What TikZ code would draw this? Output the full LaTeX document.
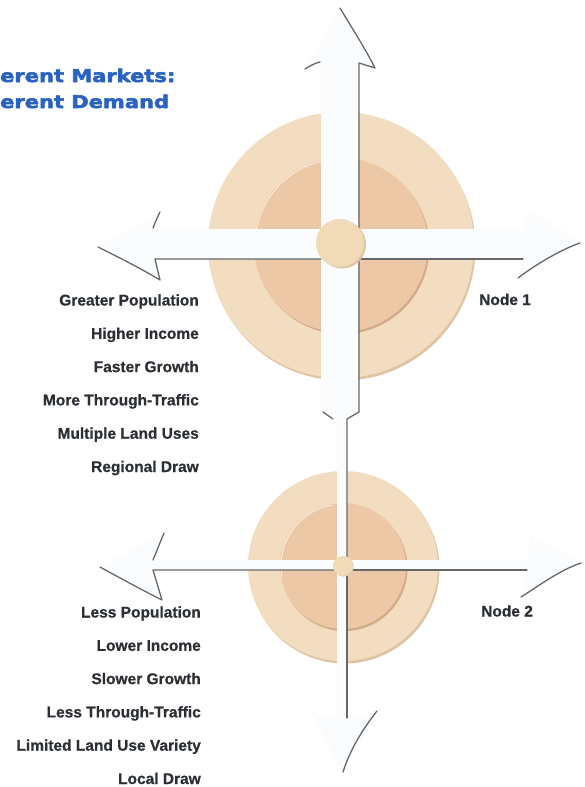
\documentclass[tikz,border=0pt]{standalone}
\usepackage{fontspec}
\setmainfont{Liberation Sans}[BoldFeatures={FakeBold=0.6}]
\newfontfamily\headfont[FakeStretch=1.2,FakeBold=3,UprightFont={* Bold}]{DejaVu Sans}
\usetikzlibrary{calc}

\definecolor{discout}{HTML}{F3DDC0}
\definecolor{discrim}{HTML}{DEC4A2}
\definecolor{discin}{HTML}{EDC8A6}
\definecolor{discinrim}{HTML}{D3AA86}
\definecolor{hubfill}{HTML}{F0DAB8}
\definecolor{roadfill}{HTML}{FAFCFD}
\definecolor{edge}{HTML}{66696C}
\definecolor{labelgray}{HTML}{2B2F33}
\definecolor{titleblue}{HTML}{2A62C2}

\begin{document}
\begin{tikzpicture}[x=1pt,y=-1pt,
    rim/.style={draw=edge,line width=1.3pt,line cap=round,line join=round},
    road/.style={fill=roadfill},
    lbl/.style={anchor=base east,inner sep=0pt,text=labelgray,font=\bfseries\fontsize{15.5}{18}\selectfont},
    nodelbl/.style={anchor=base west,inner sep=0pt,text=labelgray,font=\bfseries\fontsize{15.5}{18}\selectfont},
    headline/.style={anchor=base west,inner sep=0pt,text=titleblue,font=\headfont\fontsize{17.5}{20}\selectfont}]
	\useasboundingbox (0,0) rectangle (584,787);
	% title, cut at the left edge
	\node[headline] (title1) at (0,82) {erent Markets:};
	\node[headline] (title2) at (0,108) {erent Demand};
	% centres
	\coordinate (hub1) at (341,245);
	\coordinate (hub2) at (343,566);
	% discs of node 1
	\fill[discrim] ($(hub1)+(1.5,2.5)$) circle (133);
	\fill[discout] (hub1) circle (133);
	\fill[discinrim] ($(hub1)+(1.5,2)$) circle (87);
	\fill[discin] (hub1) circle (87);
	\draw[white,line width=0.8pt,opacity=0.8] ($(hub1)+(170:86)$) arc (170:260:86);
	% discs of node 2
	\fill[discrim] ($(hub2)+(1.5,2.5)$) circle (95);
	\fill[discout] (hub2) circle (95);
	\fill[discinrim] ($(hub2)+(1.5,2)$) circle (63);
	\fill[discin] (hub2) circle (63);
	\draw[white,line width=0.8pt,opacity=0.8] ($(hub2)+(170:62)$) arc (170:260:62);
	% white roads
	\fill[road] (321,408) -- (321,66) -- (305,69) -- (340,8) -- (375,68) -- (358,63) -- (358,412) -- (347,418) -- (347,718) -- (337,718) -- (337,420) -- cycle;
	\fill[road] (321,229) -- (155,229) -- (160,212) -- (98,247) -- (160,280) -- (155,259) -- (523,259) -- (518,278) -- (582,241) -- (528,210) -- (523,229) -- cycle;
	\fill[road] (153,560) -- (164,533) -- (100,567) -- (162,600) -- (153,570) -- (527,570) -- (521,597) -- (582,563) -- (530,535) -- (527,560) -- cycle;
	\fill[road] (337,718) -- (312,712) -- (343,774) -- (377,711) -- (347,718) -- cycle;
	% shadow edges, node 1
	\draw[rim] (340,8) .. controls (352,28) and (366,50) .. (375,68) -- (359,63) -- (359,229);
	\draw[rim] (305,69) .. controls (310,66) and (315,63) .. (320,62);
	\draw[rim] (160,212) .. controls (157,218) and (155,223) .. (153,228);
	\draw[rim] (98,247) .. controls (120,258) and (140,268) .. (160,280) -- (155,259) -- (321,259);
	\draw[rim] (359,259) -- (523,259);
	\draw[rim] (518,278) .. controls (535,265) and (560,250) .. (580,243);
	\draw[rim] (359,259) -- (359,412) -- (347,419) -- (347,560);
	\draw[rim] (323,412) -- (333,419);
	% shadow edges, node 2
	\draw[rim] (153,560) -- (164,533);
	\draw[rim] (100,567) .. controls (120,578) and (142,590) .. (162,600) -- (153,570) -- (337,570);
	\draw[rim] (347,570) -- (527,570);
	\draw[rim] (521,597) .. controls (540,585) and (560,570) .. (581,563);
	\draw[rim] (347,570) -- (347,718);
	\draw[rim] (377,711) .. controls (362,730) and (350,750) .. (343,772);
	% hubs
	\fill[discrim] ($(hub1)+(1,-0.5)$) circle (24);
	\fill[hubfill] ($(hub1)+(-1,-2)$) circle (24);
	\fill[discrim] ($(hub2)+(0.6,0.6)$) circle (10);
	\fill[hubfill] (hub2) circle (10);
	% labels
	\foreach \txt [count=\i] in {Greater Population,Higher Income,Faster Growth,More Through-Traffic,Multiple Land Uses,Regional Draw}
		\node[lbl] (upper\i) at (199,{305.5+33.3*(\i-1)}) {\txt};
	\foreach \txt [count=\i] in {Less Population,Lower Income,Slower Growth,Less Through-Traffic,Limited Land Use Variety,Local Draw}
		\node[lbl] (lower\i) at (201,{617.5+33.3*(\i-1)}) {\txt};
	\node[nodelbl] (node1) at (479,305) {Node 1};
	\node[nodelbl] (node2) at (481,616.5) {Node 2};
\end{tikzpicture}
\end{document}
